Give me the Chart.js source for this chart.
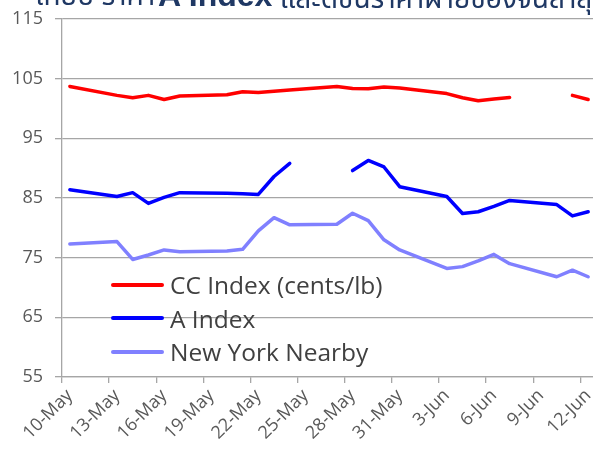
<!DOCTYPE html>
<html>
<head>
<meta charset="utf-8">
<script src="https://cdn.jsdelivr.net/npm/chart.js@4.4.1/dist/chart.umd.min.js"></script>
<style>
html,body{margin:0;padding:0;background:#fff;overflow:hidden;width:593px;height:453px}
#wrap{position:relative;width:596px;height:453px}
.ttl{position:absolute;top:-19px;white-space:nowrap;font-family:"Noto Sans Thai","Noto Sans","DejaVu Sans",sans-serif;font-size:28px;line-height:32px;color:#1F3864}
.ttl b{position:relative;top:-2px;font-family:"Liberation Sans",Arial,sans-serif;font-weight:bold;font-size:32px}
#lg{position:absolute;left:111px;top:268px;font-family:"Open Sans",sans-serif;font-size:24.5px;color:#404040}
#lg .it{display:flex;align-items:center;height:33.5px}
#lg .sw{width:53px;height:4px;border-radius:2px;margin-right:6px}
</style>
</head>
<body>
<div id="wrap">
  <canvas id="c" width="596" height="453"></canvas>
  <div class="ttl" style="right:441px">เทียบ ราคา</div>
  <div class="ttl" style="left:158px"><b>A Index</b> และดัชนีราคาฝ้ายของจีนล่าสุด</div>
  <div id="lg"></div>
</div>
<script>
/* ═══ DATA ═══ */
const dates=['10-May','13-May','14-May','15-May','16-May','17-May','20-May','21-May','22-May','23-May','24-May',
  '27-May','28-May','29-May','30-May','31-May','3-Jun','4-Jun','5-Jun','6-Jun','7-Jun','10-Jun','11-Jun','12-Jun'];
const ccIndex=[103.7,102.2,101.8,102.2,101.5,102.1,102.3,102.8,102.7,102.9,103.1,
  103.7,103.35,103.3,103.6,103.45,102.5,101.8,101.3,101.6,101.85,null,102.2,101.5];
const aIndex=[86.4,85.25,85.9,84.1,85.1,85.9,85.8,85.7,85.6,88.6,90.8,
  null,89.6,91.3,90.2,86.9,85.25,82.4,82.7,83.6,84.6,83.9,82.0,82.7];
const nyNearby=[77.3,77.7,74.7,75.45,76.3,76.0,76.1,76.4,79.5,81.7,80.5,
  80.6,82.45,81.2,78.0,76.3,73.2,73.5,74.45,75.55,74.0,71.8,72.9,71.8];
const tickLabels=['10-May','13-May','16-May','19-May','22-May','25-May','28-May','31-May','3-Jun','6-Jun','9-Jun','12-Jun'];

/* calendar days for the date axis */
const MON=['Jan','Feb','Mar','Apr','May','Jun','Jul','Aug','Sep','Oct','Nov','Dec'];
const days=[];
for(let d=new Date(Date.UTC(2024,4,10)); d<=new Date(Date.UTC(2024,5,12)); d.setUTCDate(d.getUTCDate()+1)){
  days.push(d.getUTCDate()+'-'+MON[d.getUTCMonth()]);
}

const FONT='"Open Sans", sans-serif';
const GRID='#A6A6A6', TXT='#595959';
const pts=v=>dates.map((d,i)=>({x:d,y:v[i]}));
const ser=[
  {label:'CC Index (cents/lb)', v:ccIndex, c:'#FF0000'},
  {label:'A Index', v:aIndex, c:'#0000FF'},
  {label:'New York Nearby', v:nyNearby, c:'#8080FF'}
];

const chart=new Chart(document.getElementById('c'),{
  type:'line',
  data:{
    labels:days,
    datasets:ser.map(s=>({label:s.label, data:pts(s.v), borderColor:s.c, backgroundColor:s.c,
      borderWidth:3.5, pointRadius:0, tension:0, spanGaps:false, borderJoinStyle:'round', borderCapStyle:'round'}))
  },
  options:{
    responsive:false, animation:false, devicePixelRatio:1,
    layout:{padding:{top:19,right:0,left:0,bottom:0}},
    plugins:{legend:{display:false}, tooltip:{enabled:false}},
    scales:{
      x:{
        type:'category', offset:true,
        grid:{offset:true, drawOnChartArea:false, tickLength:6, lineWidth:1.3,
          color:ctx=>ctx.index%3===0?GRID:'rgba(0,0,0,0)'},
        border:{color:GRID, width:1.3},
        ticks:{autoSkip:false, minRotation:45, maxRotation:45, padding:2, color:TXT,
          font:{family:FONT, size:18},
          callback:(v,i)=>tickLabels.includes(days[i])?days[i]:''},
        afterFit:s=>{s.height=76; s.paddingLeft=0; s.paddingRight=0;}
      },
      y:{
        min:55, max:115,
        grid:{color:GRID, lineWidth:1.3, tickLength:7},
        border:{color:GRID, width:1.3},
        ticks:{stepSize:10, padding:12, color:TXT, font:{family:FONT, size:18}},
        afterFit:s=>{s.width=62; s.paddingTop=0; s.paddingBottom=0;}
      }
    }
  }
});

/* legend inside the plot */
document.getElementById('lg').innerHTML=chart.data.datasets.map(ds=>
  `<div class="it"><span class="sw" style="background:${ds.borderColor}"></span><span>${ds.label}</span></div>`).join('');
</script>
</body>
</html>
